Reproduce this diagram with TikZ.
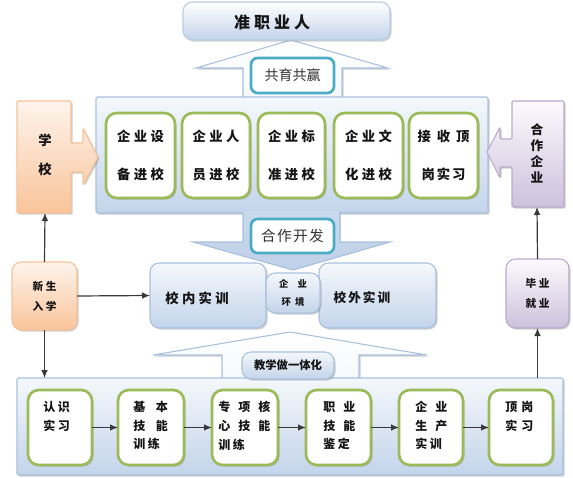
\documentclass[tikz,border=0pt]{standalone}
\usepackage{fontspec}
\newfontfamily\cjk{Noto Sans CJK SC}
\usetikzlibrary{shadows,arrows.meta}
\definecolor{bluetop}{HTML}{F5F8FC}
\definecolor{bluebot}{HTML}{C3D4EA}
\definecolor{blueline}{HTML}{A9C0DF}
\definecolor{grn}{HTML}{9BBB59}
\definecolor{tealc}{HTML}{4BACC6}
\definecolor{orgtop}{HTML}{FEF4EC}
\definecolor{orgbot}{HTML}{F9C49A}
\definecolor{orgline}{HTML}{F5C29A}
\definecolor{purtop}{HTML}{FCFAFD}
\definecolor{purbot}{HTML}{CDC1DC}
\definecolor{purline}{HTML}{B9AACC}
\definecolor{txtc}{HTML}{141414}
\definecolor{linec}{HTML}{3A3A3A}
\newcommand\gp[1]{\hspace{#1pt}}
\newcommand\pbox[7]{\node[#2,inner sep=0pt,outer sep=0pt,minimum width={(#5-#3)*0.75pt},minimum height={(#6-#4)*0.75pt}] (#1) at ({(#3+#5)/2},{(#4+#6)/2}) {#7};}
\tikzset{
  shad/.style={drop shadow={shadow xshift=1.2pt,shadow yshift=-1.2pt,opacity=0.35,fill=black!55}},
  bigbox/.style={draw=blueline,line width=0.8pt,top color=bluetop,bottom color=bluebot,rounded corners=1pt,shad},
  bluebox/.style={draw=blueline,line width=0.8pt,top color=bluetop,bottom color=bluebot,rounded corners=7pt,shad,align=center,font=\cjk\bfseries\color{txtc}},
  topbox/.style={draw=blueline!80,line width=0.8pt,top color=white,bottom color=bluebot,rounded corners=7pt,shad},
  gbox/.style={draw=grn,line width=2pt,fill=white,rounded corners=8pt,shad,align=center,font=\cjk\bfseries\fontsize{10}{12}\selectfont\color{txtc}},
  tealbox/.style={draw=tealc,line width=2pt,fill=white,rounded corners=5pt,font=\cjk\fontsize{10.5}{12}\selectfont\color{black!80}},
  orgbox/.style={draw=orgline,line width=0.8pt,top color=orgtop,bottom color=orgbot,rounded corners=7pt,shad,align=center,font=\cjk\bfseries\fontsize{8}{10}\selectfont\color{txtc}},
  purbox/.style={draw=purline,line width=0.8pt,top color=purtop,bottom color=purbot,rounded corners=7pt,shad,align=center,font=\cjk\bfseries\fontsize{8}{10}\selectfont\color{txtc}},
  lightarrow/.style={draw=blueline,line width=0.8pt,top color=white,bottom color=bluetop,shad},
  txt/.style={inner sep=0pt,align=center,text=txtc},
  btext/.style={inner sep=0pt,align=left,anchor=north west,text=txtc,font=\cjk\bfseries\fontsize{9}{14}\selectfont},
  conn/.style={draw=linec,line width=0.9pt,-{Latex[length=6pt,width=5pt]}}
}
\begin{document}
\begin{tikzpicture}[x=0.75pt,y=-0.75pt]
\useasboundingbox (0,0) rectangle (573,477);
% up arrow (top)
\path[lightarrow] (243,100) -- (243,68) -- (196,68) -- (291,40) -- (388,68) -- (342,68) -- (342,100) -- cycle;
\pbox{zzy}{topbox}{183}{2}{390}{40}{}
\node[txt,font=\cjk\bfseries\fontsize{12}{14}\selectfont] (zzyt) at (272,22) {准\gp3职\gp3业\gp3人};
% big top box
\pbox{bigt}{bigbox}{96}{97}{488}{213}{}
\pbox{gy}{tealbox}{251}{58}{334}{93}{共育共赢}
\pbox{t1}{gbox}{106}{113}{175}{198}{企\gp{2.5}业\gp{2.5}设\\[16pt]备\gp{2.5}进\gp{2.5}校}
\pbox{t2}{gbox}{182}{113}{250}{198}{企\gp{2.5}业\gp{2.5}人\\[16pt]员\gp{2.5}进\gp{2.5}校}
\pbox{t3}{gbox}{258}{113}{325}{198}{企\gp{2.5}业\gp{2.5}标\\[16pt]准\gp{2.5}进\gp{2.5}校}
\pbox{t4}{gbox}{334}{113}{403}{198}{企\gp{2.5}业\gp{2.5}文\\[16pt]化\gp{2.5}进\gp{2.5}校}
\pbox{t5}{gbox}{409}{113}{478}{198}{接\gp{4.5}收\gp{4.5}顶\\[16pt]岗\gp{1.5}实\gp{1.5}习}
% left callout school
\path[draw=orgline,line width=0.8pt,top color=orgtop,bottom color=orgbot,shad,rounded corners=0.8pt]
  (17,101) -- (71,101) -- (71,143) -- (83,143) -- (83,128) -- (98,157) -- (83,185) -- (83,172) -- (71,172) -- (71,213) -- (17,213) -- cycle;
\coordinate (xxb) at (45,213);
\node[txt,font=\cjk\bfseries\fontsize{10}{12}\selectfont] (xx) at (45,155) {学\\[10pt]校};
% right callout enterprise
\path[draw=purline,line width=0.8pt,top color=purtop,bottom color=purbot,shad,rounded corners=0.8pt]
  (564,101) -- (512,101) -- (512,139) -- (500,139) -- (500,127) -- (487,152) -- (500,178) -- (500,167) -- (512,167) -- (512,207) -- (564,207) -- cycle;
\coordinate (hzb) at (537,207);
\node[txt,font=\cjk\bfseries\fontsize{9.5}{12}\selectfont] (hz) at (537,153) {合\\作\\企\\业};
% down arrow
\fill[top color=bluebot!90,bottom color=bluebot!85!blueline] (243,211) -- (243,242) -- (193,242) -- (293,270) -- (390,242) -- (340,242) -- (340,211) -- cycle;
\draw[draw=blueline,line width=0.8pt] (243,213) -- (243,242) -- (193,242) -- (293,270) -- (390,242) -- (340,242) -- (340,213);
\pbox{hzkf}{tealbox,font=\cjk\fontsize{11}{12}\selectfont\color{black!80}}{251}{219}{334}{253}{合\gp1作\gp1开\gp1发}
% middle row
\pbox{xn}{bluebox}{150}{263}{266}{328}{}
\node[txt,font=\cjk\bfseries\fontsize{10}{12}\selectfont] (xnt) at (197,298) {校\gp{2.5}内\gp{2.5}实\gp{2.5}训};
\pbox{xw}{bluebox}{319}{263}{436}{328}{}
\node[txt,font=\cjk\bfseries\fontsize{9.5}{12}\selectfont] (xwt) at (362,298) {校\gp{1.5}外\gp{1.5}实\gp{1.5}训};
\pbox{qy}{bluebox,font=\cjk\bfseries\fontsize{7}{9}\selectfont\color{txtc}}{266}{273}{320}{313}{企\gp7业\\[5pt]环\gp3境}
\pbox{xs}{orgbox}{12}{262}{77}{330}{新\gp2生\\[5pt]入\gp2学}
\pbox{by}{purbox}{506}{259}{569}{328}{毕\gp2业\\[5pt]就\gp2业}
% bottom up arrow
\path[lightarrow] (222,382) -- (222,355) -- (153,355) -- (290,332) -- (427,355) -- (359,355) -- (359,382) -- cycle;
\pbox{bigb}{bigbox}{17}{378}{563}{475}{}
\pbox{jx}{bluebox,font=\cjk\bfseries\fontsize{8.5}{10}\selectfont\color{txtc}}{242}{352}{334}{379}{教学做一体化}
% bottom green boxes
\pbox{b1}{gbox}{28}{390}{92}{465}{}
\pbox{b2}{gbox}{118}{390}{184}{465}{}
\pbox{b3}{gbox}{212}{390}{278}{465}{}
\pbox{b4}{gbox}{306}{390}{371}{465}{}
\pbox{b5}{gbox}{399}{390}{463}{465}{}
\pbox{b6}{gbox}{489}{390}{553}{465}{}
\node[btext] (b1t) at (43,401) {认\gp2识\\实\gp2习};
\node[btext] (b2t) at (133,401) {基\gp8本\\技\gp8能\\训\gp2练};
\node[btext] (b3t) at (218,401) {专\gp6项\gp6核\\心\gp6技\gp6能\\训\gp2练};
\node[btext] (b4t) at (323,401) {职\gp6业\\技\gp6能\\鉴\gp2定};
\node[btext] (b5t) at (415,401) {企\gp6业\\生\gp6产\\实\gp2训};
\node[btext] (b6t) at (505,401) {顶\gp3岗\\实\gp3习};
% connectors
\draw[conn] (xs.east) -- (xn.west);
\draw[conn] (xs.north) -- (xxb);
\draw[conn] (xs.south) -- (xs.south |- bigb.north);
\draw[conn] (by.south |- bigb.north) -- (by.south);
\draw[conn] (by.north) -- (hzb);
\draw[conn] (b1.east) -- (b2.west);
\draw[conn] (b2.east) -- (b3.west);
\draw[conn] (b3.east) -- (b4.west);
\draw[conn] (b4.east) -- (b5.west);
\draw[conn] (b5.east) -- (b6.west);
\end{tikzpicture}
\end{document}
